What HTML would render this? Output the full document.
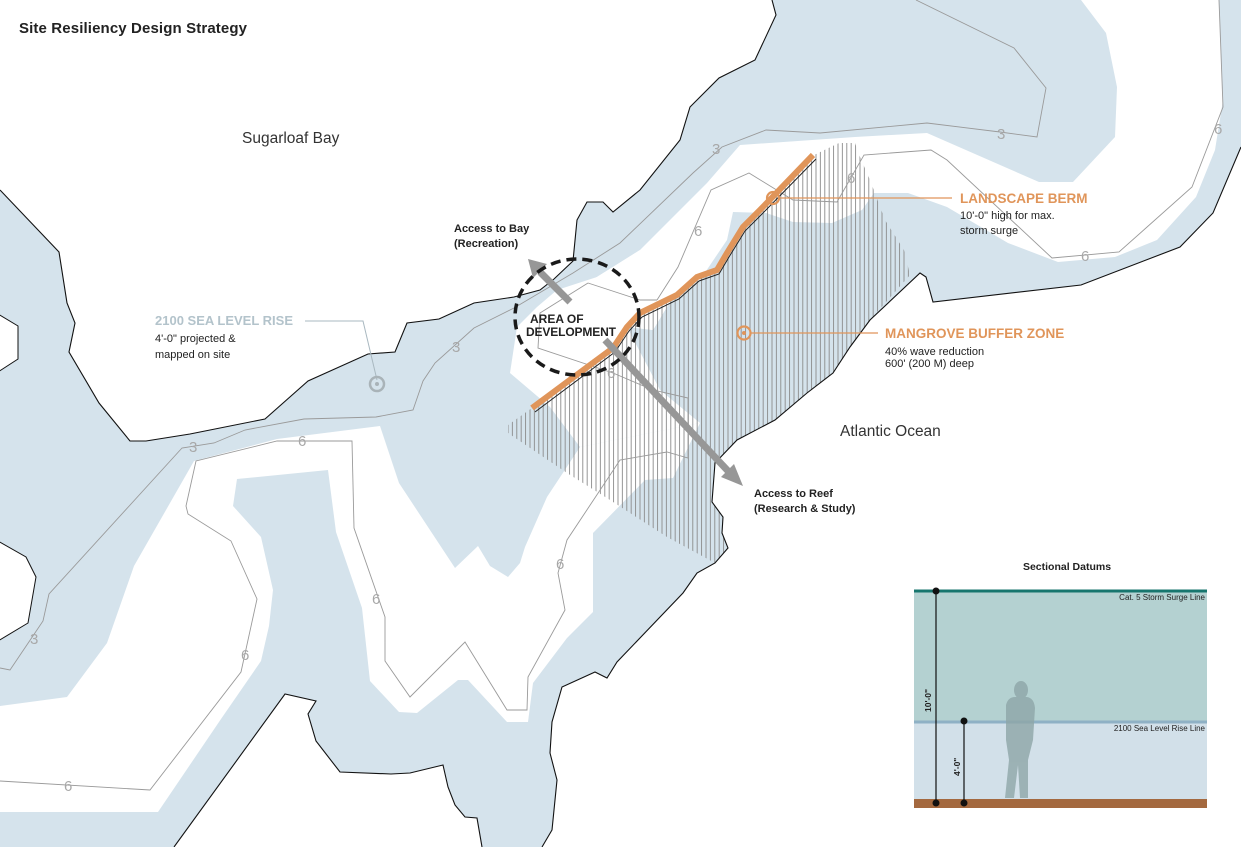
<!DOCTYPE html>
<html><head><meta charset="utf-8"><style>
html,body{margin:0;padding:0;background:#fff;}
svg{display:block;}
text{font-family:"Liberation Sans",sans-serif;}
</style></head><body>
<svg width="1241" height="847" viewBox="0 0 1241 847" xmlns="http://www.w3.org/2000/svg">
<defs>
<pattern id="hatch" width="4.4" height="10" patternUnits="userSpaceOnUse">
<line x1="2" y1="0" x2="2" y2="10" stroke="#8a8a8a" stroke-width="0.9"/>
</pattern>
<clipPath id="hc"><polygon points="532,408 613,348 627,327 640,313 677,295 697,277 717,270 727,253 743,227 760,210 814,155 839,143 855,143 860,157 870,180 885,220 904,250 910,275 870,320 850,347 833,373 807,393 775,420 737,440 715,463 712,502 723,517 722,533 728,548 715,563 667,537 610,500 567,473 508,433 508,425"/></clipPath>
</defs>
<rect width="1241" height="847" fill="#fff"/>
<polygon fill="#d5e3ec" points="0,190 59,252 67,303 75,323 69,352 99,403 130,441 146,441 190,434 265,419 308,381 368,354 395,352 407,323 439,319 474,303 514,297 540,290 554,279 573,261 577,220 587,202 603,202 613,212 640,190 680,140 690,107 719,78 755,60 776,15 772,0 1241,0 1241,147 1213,213 1180,247 1081,285 933,302 926,277 920,273 870,320 850,347 833,373 807,393 775,420 737,440 715,463 712,502 723,517 722,533 728,548 715,563 697,573 683,593 617,662 607,678 595,672 562,687 552,722 550,753 557,780 552,830 542,847 482,847 477,818 465,817 455,805 448,787 443,765 410,773 391,774 340,772 316,741 308,714 316,701 285,694 174,847 0,847"/>
<polygon fill="#fff" points="1081,0 1219,0 1223,100 1215,150 1196,197 1157,240 1115,257 1058,262 1008,243 947,207 908,193 874,193 862,210 832,223 793,222 766,213 733,212 727,240 700,280 673,297 653,330 627,327 560,335 517,327 537,307 557,290 597,277 640,250 673,217 707,183 740,145 855,137 927,133 1039,182 1073,182 1115,137 1117,87 1106,33"/>
<polygon fill="#fff" points="510,373 517,327 560,300 640,250 673,297 653,330 627,327 660,390 700,423 580,447 550,407"/>
<polygon fill="#fff" points="0,706 67,697 107,643 134,566 194,461 277,439 380,426 399,483 455,568 478,546 490,566 508,577 520,563 525,547 547,497 580,447 700,423 673,478 645,480 593,533 593,612 567,638 533,683 528,722 507,722 468,680 458,680 417,713 399,712 370,681 362,608 336,532 328,470 237,479 233,506 261,537 273,590 269,626 261,661 221,719 158,812 0,812"/>
<polygon fill="#fff" stroke="#111" stroke-width="1" points="-2,314 18,326 18,359 -2,372"/>
<polygon fill="#fff" stroke="#111" stroke-width="1" points="-2,541 26,557 36,577 28,623 -2,641"/>
<rect x="500" y="140" width="420" height="430" fill="url(#hatch)" clip-path="url(#hc)"/>
<g fill="none" stroke="#111" stroke-width="1.1">
<polyline points="0,190 59,252 67,303 75,323 69,352 99,403 130,441 146,441 190,434 265,419 308,381 368,354 395,352 407,323 439,319 474,303 514,297 540,290 554,279 573,261 577,220 587,202 603,202 613,212 640,190 680,140 690,107 719,78 755,60 776,15 772,0"/>
<polyline points="1241,147 1213,213 1180,247 1081,285 933,302 926,277 920,273 870,320 850,347 833,373 807,393 775,420 737,440 715,463 712,502 723,517 722,533 728,548 715,563 697,573 683,593 617,662 607,678 595,672 562,687 552,722 550,753 557,780 552,830 542,847"/>
<polyline points="482,847 477,818 465,817 455,805 448,787 443,765 410,773 391,774 340,772 316,741 308,714 316,701 285,694 174,847"/>
</g>
<g fill="none" stroke="#9a9a9a" stroke-width="0.9">
<polyline points="0,668 10,670 43,621 49,594 182,448 214,443 245,430 304,419 376,417 413,410 423,381 435,363 474,328 514,308 573,273 620,243 693,173 722,147 766,130 820,133 927,123 1000,132 1037,137 1046,88 1014,48 916,0"/>
<polyline points="1219,0 1223,107 1192,187 1119,252 1052,258 947,160 931,150 864,155 837,202 793,200 749,173 711,190 678,267 657,300"/>
<polyline points="588,283 540,313 538,348 613,373 653,390 688,398 688,458 667,452 620,460 567,540 558,573 565,610 528,677 527,710 507,710 465,642 410,697 385,661 385,617 354,528 352,441 277,441 196,461 186,506 188,514 231,541 257,599 241,672 150,790 0,781"/>
<polyline points="588,283 640,300 657,300"/>
</g>
<g font-size="15" fill="#a8a8a8">
<text x="712" y="154">3</text><text x="997" y="139">3</text><text x="452" y="352">3</text><text x="189" y="452">3</text><text x="30" y="644">3</text>
<text x="1214" y="134">6</text><text x="847" y="183">6</text><text x="694" y="236">6</text><text x="607" y="378">6</text><text x="1081" y="261">6</text><text x="298" y="446">6</text><text x="556" y="569">6</text><text x="372" y="604">6</text><text x="241" y="660">6</text><text x="64" y="791">6</text>
</g>
<polyline fill="none" stroke="#222" stroke-width="1" points="535,412 615,352 629,331 642,317 679,299 699,281 719,274 729,257 745,231 762,214 816,159"/>
<polyline fill="none" stroke="#e0955a" stroke-width="6" points="532,408 613,348 627,327 640,313 677,295 697,277 717,270 727,253 743,227 760,210 813,155"/>
<g stroke="#979797" stroke-width="7" fill="none"><line x1="570" y1="302" x2="540" y2="272"/><line x1="605" y1="340" x2="728" y2="471"/></g>
<polygon fill="#979797" points="528,259 547,264 533,278"/>
<polygon fill="#979797" points="743,486 721,477 734,464"/>
<ellipse cx="577" cy="317" rx="62" ry="58" fill="none" stroke="#1a1a1a" stroke-width="3.5" stroke-dasharray="10 6"/>
<g fill="none" stroke="#e0955a" stroke-width="1.2"><line x1="779" y1="198" x2="952" y2="198"/><line x1="751" y1="333" x2="878" y2="333"/></g>
<circle cx="773" cy="198" r="6" fill="none" stroke="#e0955a" stroke-width="2.2"/>
<circle cx="744" cy="333" r="6.5" fill="none" stroke="#e0955a" stroke-width="2.2"/><circle cx="744" cy="333" r="2" fill="#e0955a"/>
<polyline fill="none" stroke="#a9b8c0" stroke-width="1" points="305,321 363,321 377,380"/>
<circle cx="377" cy="384" r="7" fill="none" stroke="#a9b3b8" stroke-width="2.5"/><circle cx="377" cy="384" r="2" fill="#a9b3b8"/>
<text x="19" y="33" font-size="15" font-weight="bold" fill="#222" textLength="228">Site Resiliency Design Strategy</text>
<text x="242" y="143" font-size="15.5" fill="#333">Sugarloaf Bay</text>
<text x="840" y="436" font-size="15.5" fill="#333">Atlantic Ocean</text>
<g font-size="11" font-weight="bold" fill="#222">
<text x="454" y="232">Access to Bay</text><text x="454" y="247">(Recreation)</text>
<text x="754" y="497">Access to Reef</text><text x="754" y="512">(Research &amp; Study)</text>
</g>
<g font-size="12" font-weight="bold" fill="#222">
<text x="530" y="323">AREA OF</text><text x="526" y="336" textLength="90">DEVELOPMENT</text>
</g>
<text x="960" y="203" font-size="13.5" font-weight="bold" fill="#e0955a">LANDSCAPE BERM</text>
<text x="960" y="219" font-size="11" fill="#222">10'-0" high for max.</text>
<text x="960" y="234" font-size="11" fill="#222">storm surge</text>
<text x="885" y="338" font-size="13.5" font-weight="bold" fill="#e0955a">MANGROVE BUFFER ZONE</text>
<text x="885" y="355" font-size="11" fill="#222">40% wave reduction</text>
<text x="885" y="367" font-size="11" fill="#222">600' (200 M) deep</text>
<text x="155" y="325" font-size="13" font-weight="bold" fill="#b3c3cb">2100 SEA LEVEL RISE</text>
<text x="155" y="342" font-size="11" fill="#222">4'-0" projected &amp;</text>
<text x="155" y="358" font-size="11" fill="#222">mapped on site</text>
<text x="1067" y="570" font-size="10.5" font-weight="bold" fill="#222" text-anchor="middle">Sectional Datums</text>
<rect x="914" y="590" width="293" height="132" fill="#b4d1d1"/>
<rect x="914" y="722" width="293" height="78" fill="#d2e0e9"/>
<rect x="914" y="799" width="293" height="9" fill="#a4693f"/>
<line x1="914" y1="591" x2="1207" y2="591" stroke="#17766e" stroke-width="3"/>
<line x1="914" y1="722" x2="1207" y2="722" stroke="#8fb1c5" stroke-width="3"/>
<g fill="#8ea6a8" opacity="0.8">
<ellipse cx="1021" cy="690" rx="7" ry="9"/>
<path d="M1006,705 Q1008,697 1015,697 L1027,697 Q1034,698 1035,708 L1033,740 L1028,760 L1028,798 L1020,798 L1018,765 L1014,798 L1005,798 L1009,760 L1006,740 Z"/>
</g>
<g stroke="#111" stroke-width="1.2"><line x1="936" y1="591" x2="936" y2="803"/><line x1="964" y1="720" x2="964" y2="803"/></g>
<g fill="#111"><circle cx="936" cy="591" r="3.5"/><circle cx="936" cy="803" r="3.5"/><circle cx="964" cy="721" r="3.5"/><circle cx="964" cy="803" r="3.5"/></g>
<text x="1205" y="600" font-size="8" fill="#222" text-anchor="end">Cat. 5 Storm Surge Line</text>
<text x="1205" y="731" font-size="8" fill="#222" text-anchor="end">2100 Sea Level Rise Line</text>
<text transform="translate(931,712) rotate(-90)" font-size="8.5" font-weight="bold" fill="#222">10'-0"</text>
<text transform="translate(960,776) rotate(-90)" font-size="8.5" font-weight="bold" fill="#222">4'-0"</text>
</svg>
</body></html>
